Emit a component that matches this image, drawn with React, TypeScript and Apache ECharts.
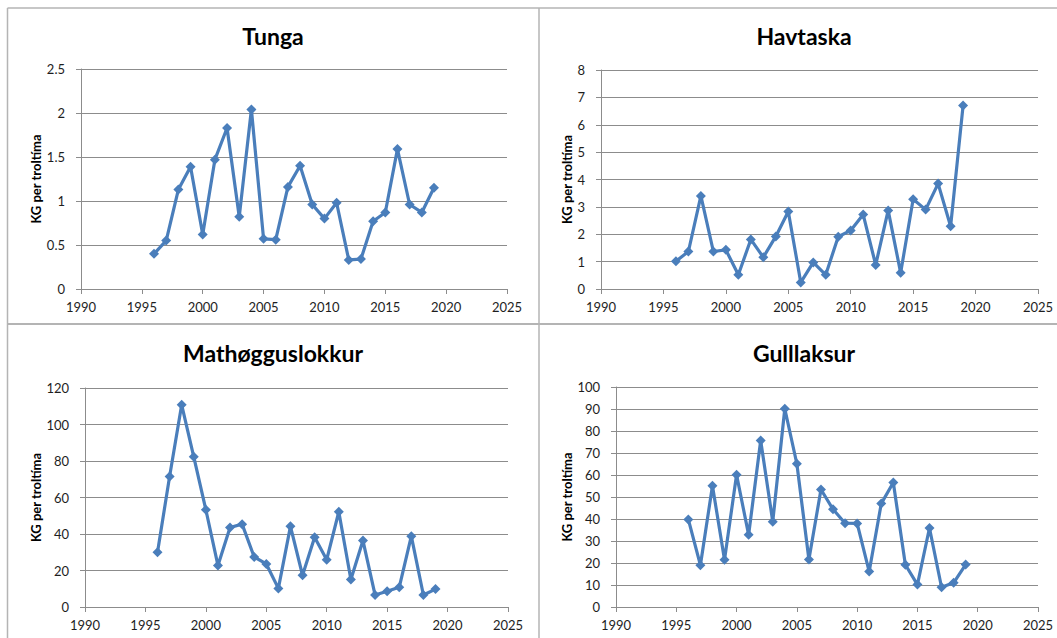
import React, { useEffect, useRef } from "react";
import * as echarts from "echarts";

const years = [1996, 1997, 1998, 1999, 2000, 2001, 2002, 2003, 2004, 2005, 2006, 2007, 2008, 2009, 2010, 2011, 2012, 2013, 2014, 2015, 2016, 2017, 2018, 2019];

const tunga = [0.40, 0.55, 1.13, 1.39, 0.62, 1.47, 1.83, 0.82, 2.04, 0.57, 0.56, 1.16, 1.40, 0.96, 0.80, 0.98, 0.33, 0.34, 0.77, 0.87, 1.59, 0.96, 0.87, 1.15];
const havtaska = [1.01, 1.37, 3.40, 1.37, 1.43, 0.52, 1.81, 1.16, 1.92, 2.83, 0.24, 0.97, 0.52, 1.91, 2.14, 2.72, 0.88, 2.87, 0.59, 3.28, 2.90, 3.85, 2.29, 6.70];
const mathogguslokkur = [30.0, 71.5, 110.8, 82.3, 53.3, 22.8, 43.6, 45.4, 27.4, 23.6, 10.2, 44.2, 17.4, 38.2, 25.9, 52.2, 15.1, 36.4, 6.6, 8.6, 10.8, 38.8, 6.6, 9.8];
const gulllaksur = [39.8, 19.0, 55.1, 21.5, 60.1, 32.8, 75.7, 38.8, 90.1, 65.1, 21.6, 53.4, 44.4, 38.1, 38.0, 16.1, 47.0, 56.6, 19.2, 10.2, 35.9, 9.0, 11.0, 19.3];

const titles = ["Tunga", "Havtaska", "Mathøgguslokkur", "Gulllaksur"];
const yMax = [2.5, 8, 120, 100];
const yStep = [0.5, 1, 20, 10];
const xMin = 1990;
const xMax = 2025;
const xStep = 5;
const yName = "KG per troltíma";

const LINE = "#4A7EBB";
const GRID = "#8c8c8c";
const BORDER = "#b4b4b4";
const TXT = "#1e1e1e";

export default function App() {
  const ref = useRef<HTMLDivElement>(null);
  useEffect(() => {
    if (!ref.current) return;
    const chart = echarts.init(ref.current, null, { renderer: "svg" });
    const seriesVals = [tunga, havtaska, mathogguslokkur, gulllaksur];
    const grids = [
      { left: 81, top: 69, width: 426, height: 220 },
      { left: 601, top: 70, width: 437, height: 219 },
      { left: 85, top: 388, width: 423, height: 219 },
      { left: 616, top: 387, width: 422, height: 220 },
    ];
    const nameGaps = [38, 26, 41, 41];
    const titlePos = [
      [273, 36],
      [804, 36],
      [273, 353],
      [804, 353],
    ];
    const font = "Lato, 'Open Sans', sans-serif";
    const option: any = {
      animation: false,
      backgroundColor: "#ffffff",
      grid: grids.map((g) => ({ ...g, containLabel: false })),
      xAxis: grids.map((_, i) => ({
        type: "value",
        gridIndex: i,
        min: xMin,
        max: xMax,
        interval: xStep,
        axisLine: { show: true, lineStyle: { color: GRID, width: 1 } },
        axisTick: { show: true, length: 5, inside: false, lineStyle: { color: GRID } },
        splitLine: { show: false },
        axisLabel: {
          margin: 11,
          color: TXT,
          fontFamily: font,
          fontSize: 13,
          formatter: (v: number) => String(v),
        },
      })),
      yAxis: grids.map((_, i) => ({
        type: "value",
        gridIndex: i,
        min: 0,
        max: yMax[i],
        interval: yStep[i],
        name: yName,
        nameLocation: "middle",
        nameGap: nameGaps[i],
        nameTextStyle: { fontFamily: font, fontSize: 13, fontWeight: "bold", color: "#000" },
        axisLine: { show: true, lineStyle: { color: GRID, width: 1 } },
        axisTick: { show: true, length: 5, inside: false, lineStyle: { color: GRID } },
        splitLine: { show: true, lineStyle: { color: GRID, width: 1 } },
        axisLabel: {
          margin: 16,
          color: TXT,
          fontFamily: font,
          fontSize: 13,
          formatter: (v: number) => String(v),
        },
      })),
      series: seriesVals.map((vals, i) => ({
        type: "line",
        name: titles[i],
        xAxisIndex: i,
        yAxisIndex: i,
        data: years.map((y, k) => [y, vals[k]]),
        symbol: "diamond",
        symbolSize: 10,
        showAllSymbol: true,
        lineStyle: { color: LINE, width: 3.2 },
        itemStyle: { color: LINE },
      })),
      graphic: [
        { type: "line", shape: { x1: 7.5, y1: 8, x2: 1057, y2: 8 }, style: { stroke: BORDER, lineWidth: 1.5 } },
        { type: "line", shape: { x1: 7.5, y1: 8, x2: 7.5, y2: 638 }, style: { stroke: BORDER, lineWidth: 1.5 } },
        { type: "line", shape: { x1: 539, y1: 8, x2: 539, y2: 638 }, style: { stroke: BORDER, lineWidth: 1.5 } },
        { type: "line", shape: { x1: 7.5, y1: 324, x2: 1057, y2: 324 }, style: { stroke: BORDER, lineWidth: 2 } },
        ...titles.map((t, i) => ({
          type: "text",
          x: titlePos[i][0],
          y: titlePos[i][1],
          style: {
            text: t,
            align: "center",
            verticalAlign: "middle",
            font: `bold 23px ${font}`,
            fill: "#000",
          },
        })),
      ],
    };
    chart.setOption(option);
    return () => chart.dispose();
  }, []);
  return (
    <div
      ref={ref}
      style={{ position: "fixed", left: 0, top: 0, width: 1057, height: 638, background: "#fff" }}
    />
  );
}
